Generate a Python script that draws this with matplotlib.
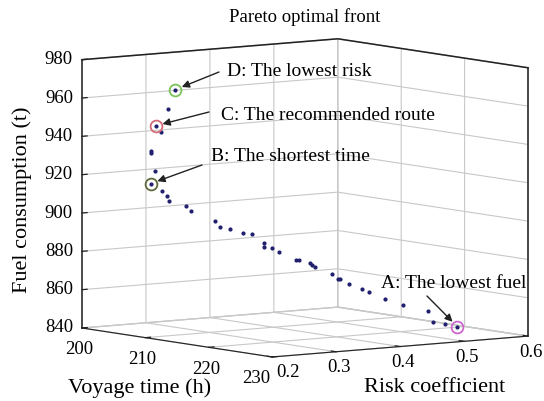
import numpy as np
import matplotlib
matplotlib.use('Agg')
import matplotlib.pyplot as plt
from mpl_toolkits.mplot3d import proj3d

plt.rcParams['font.family'] = ['Liberation Serif', 'DejaVu Serif']
plt.rcParams['grid.color'] = '#c8c8c8'
plt.rcParams['grid.linewidth'] = 0.8

# ---- data ----
time_h = [212, 210, 208, 208, 206.5, 206.5, 206, 205, 206, 206.5,
          207, 207.5, 208, 209, 209.5, 210, 210.5, 211, 211.5, 211.5,
          212, 212.5, 213, 213, 213.5, 214, 214, 215, 215.5, 215.5,
          216, 216.5, 217, 218, 219, 220, 220.5, 221, 222]
risk = [0.227, 0.235, 0.236, 0.245, 0.243, 0.243, 0.254, 0.258, 0.265, 0.268,
        0.267, 0.289, 0.291, 0.319, 0.321, 0.333, 0.348, 0.357, 0.370, 0.371,
        0.378, 0.384, 0.406, 0.410, 0.423, 0.421, 0.426, 0.442, 0.446, 0.450,
        0.459, 0.474, 0.480, 0.496, 0.513, 0.542, 0.545, 0.560, 0.569]
fuel = [969.7, 958.1, 948.6, 945.0, 934.4, 933.2, 923.7, 916.3, 912.8, 910.2,
        908.0, 905.2, 902.5, 897.2, 894.4, 893.3, 890.7, 890.2, 885.4, 883.3,
        883.1, 881.0, 876.5, 876.3, 874.5, 873.9, 872.9, 869.2, 866.7, 866.4,
        864.1, 861.2, 859.9, 856.1, 852.9, 849.6, 843.9, 843.0, 841.7]

key_labels = ['A: The lowest fuel', 'B: The shortest time',
              'C: The recommended route', 'D: The lowest risk']
key_index = [38, 7, 2, 0]
key_colors = ['#cc66cc', '#5f6b3a', '#d46a78', '#7cc45a']

time_ticks = [200, 210, 220, 230]
risk_ticks = [0.2, 0.3, 0.4, 0.5, 0.6]
fuel_ticks = [840, 860, 880, 900, 920, 940, 960, 980]

# ---- figure ----
W_PX, H_PX = 544, 401
fig = plt.figure(figsize=(W_PX / 100, H_PX / 100), dpi=100)
ax = fig.add_axes([0.1, 0.1, 0.8, 0.8], projection='3d')
ax.set_proj_type('ortho')
ax.view_init(elev=6.4, azim=-36.2)
ax.set_box_aspect((322, 317, 270))
ax.set_xlim(time_ticks[0], time_ticks[-1])
ax.set_ylim(risk_ticks[0], risk_ticks[-1])
ax.set_zlim(fuel_ticks[0], fuel_ticks[-1])
ax.set_xticks(time_ticks)
ax.set_yticks(risk_ticks)
ax.set_zticks(fuel_ticks)
ax.set_xticklabels([])
ax.set_yticklabels([])
ax.set_zticklabels([])
ax.tick_params(colors='none')

for axis in (ax.xaxis, ax.yaxis, ax.zaxis):
    axis.pane.set_facecolor('white')
    axis.pane.set_edgecolor('#b0b0b0')
    axis.line.set_color('#222222')
    axis._axinfo['grid'].update(color='#c8c8c8', linewidth=0.8)
ax.zaxis.line.set_color('none')

ax.plot(time_h, risk, fuel, 'o', ms=2.0, color='#1f1f6e', mec='#1f1f6e')
for i, c in zip(key_index, key_colors):
    ax.plot([time_h[i]], [risk[i]], [fuel[i]], 'o', ms=8.5, mfc='none',
            mec=c, mew=1.3)

# box edges (dark)
t0, t1 = time_ticks[0], time_ticks[-1]
r0, r1 = risk_ticks[0], risk_ticks[-1]
f0, f1 = fuel_ticks[0], fuel_ticks[-1]
ek = dict(color='#222222', lw=1.1)
ax.plot([t0, t0, t1], [r0, r1, r1], [f1, f1, f1], **ek)
ax.plot([t1, t1], [r1, r1], [f0, f1], **ek)
ax.plot([t0, t0], [r0, r0], [f0, f1], **ek)
# small inward ticks
dr = (r1 - r0) * 0.02
dt = (t1 - t0) * 0.025
tk = dict(color='#222222', lw=0.9)
for z in fuel_ticks:
    ax.plot([t0, t0], [r0, r0 + dr], [z, z], **tk)
for t in time_ticks:
    ax.plot([t, t], [r0, r0 + dr], [f0, f0], **tk)
for r in risk_ticks:
    ax.plot([t1, t1 - dt], [r, r], [f0, f0], **tk)

# fit the projected box to the reference layout
tL = (82, H_PX - 328)
tR = (528, H_PX - 337)


def to_px(x, y, z):
    X, Y, _ = proj3d.proj_transform(x, y, z, ax.get_proj())
    return ax.transData.transform((X, Y))


for _ in range(3):
    fig.canvas.draw()
    pL = to_px(t0, r0, f0)
    pR = to_px(t1, r1, f0)
    s = (tR[0] - tL[0]) / (pR[0] - pL[0])
    bb = ax.get_position(original=True)
    cx = (bb.x0 + bb.x1) / 2 * W_PX
    cy = (bb.y0 + bb.y1) / 2 * H_PX
    nLx = cx + s * (pL[0] - cx)
    nLy = cy + s * (pL[1] - cy)
    ncx = (cx + tL[0] - nLx) / W_PX
    ncy = (cy + tL[1] - nLy) / H_PX
    nw, nh = bb.width * s, bb.height * s
    ax.set_position([ncx - nw / 2, ncy - nh / 2, nw, nh])

fig.canvas.draw()

# tick labels
TFS = 13.5
for z in fuel_ticks:
    p = to_px(t0, r0, z)
    fig.text((p[0] - 9) / W_PX, p[1] / H_PX, str(z), fontsize=TFS,
             ha='right', va='center')
for k, t in enumerate(time_ticks):
    p = to_px(t, r0, f0)
    if k == len(time_ticks) - 1:
        fig.text((p[0] - 2) / W_PX, (p[1] - 22) / H_PX, str(t), fontsize=TFS,
                 ha='right', va='center')
    else:
        fig.text((p[0] - 3) / W_PX, (p[1] - 22) / H_PX, str(t), fontsize=TFS,
                 ha='center', va='center')
for k, r in enumerate(risk_ticks):
    p = to_px(t1, r, f0)
    if k == 0:
        fig.text((p[0] + 4) / W_PX, (p[1] - 16) / H_PX, f'{r:g}', fontsize=TFS,
                 ha='left', va='center')
    else:
        fig.text((p[0] + 3) / W_PX, (p[1] - 16) / H_PX, f'{r:g}', fontsize=TFS,
                 ha='center', va='center')

# annotations
text_pos = [(381, 283), (211, 157), (221, 115), (227, 71)]
tail_pos = [(427, 296), (202, 165), (209, 112), (219, 72)]
for lab, i, (tx, ty), (ax0, ay0) in zip(key_labels, key_index, text_pos, tail_pos):
    p = to_px(time_h[i], risk[i], fuel[i])
    fig.text(tx / W_PX, 1 - ty / H_PX, lab, fontsize=14, va='center', ha='left')
    fig.add_artist(matplotlib.patches.FancyArrowPatch(
        (ax0, H_PX - ay0), (p[0], p[1]), transform=None,
        arrowstyle='-|>', mutation_scale=11, lw=1.0, color='#222222',
        shrinkA=0, shrinkB=5))

fig.text(305 / W_PX, 1 - 17 / H_PX, 'Pareto optimal front', fontsize=13.5,
         ha='center', va='center')
fig.text(22 / W_PX, 1 - 200 / H_PX, 'Fuel consumption (t)', fontsize=16,
         rotation=90, ha='center', va='center')
fig.text(140 / W_PX, 1 - 388 / H_PX, 'Voyage time (h)', fontsize=16,
         ha='center', va='center')
fig.text(435 / W_PX, 1 - 387 / H_PX, 'Risk coefficient', fontsize=16,
         ha='center', va='center')

fig.savefig('out.png', dpi=100)
